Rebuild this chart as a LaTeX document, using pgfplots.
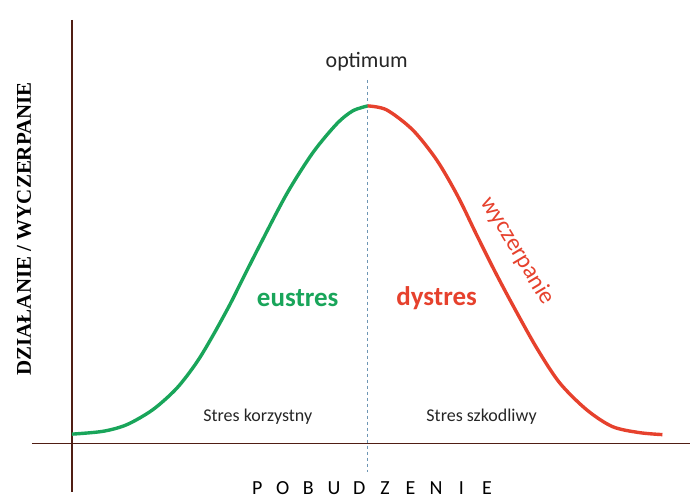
\documentclass[border=0pt]{standalone}
\usepackage{pgfplots}
\pgfplotsset{compat=1.18}
\usepackage{fontspec}
\setmainfont{Carlito}
\newfontfamily\serifb{Liberation Serif}
\definecolor{axcol}{RGB}{80,30,20}
\definecolor{gcurve}{RGB}{25,165,90}
\definecolor{rcurve}{RGB}{230,65,45}
\definecolor{dashc}{RGB}{110,150,180}
\begin{document}
\begin{tikzpicture}
\begin{axis}[
  scale only axis, width=691pt, height=500pt,
  xmin=0, xmax=691, ymin=0, ymax=500, y dir=reverse,
  hide axis, clip=false,
]
\path[draw=none] (axis cs:0,0) rectangle (axis cs:691,500);
% axes
\addplot[axcol, line width=1.2pt] coordinates {(72,20) (72,492)};
\addplot[axcol, line width=1.2pt] coordinates {(32,444) (691,444)};
% optimum line
\addplot[dashc, line width=0.8pt, dash pattern=on 3pt off 3pt] coordinates {(368,80) (368,472)};
% green (eustres)
\addplot[gcurve, line width=3.4pt, smooth] coordinates {
(72,434.5) (103,431.7) (127,425) (153,410) (177,388.5) (197,362.5) (213,336) (230,305)
(242,281) (260,245.5) (287,194) (313,153) (337,124) (353,111) (368,106)};
% red (dystres)
\addplot[rcurve, line width=3.4pt, smooth] coordinates {
(368,106) (387,110) (413,130) (437,160) (458,196) (477,235) (495,271) (513,305)
(537,348) (560,383) (587,410) (613,427) (640,433) (663,435)};
% labels
\node[font=\fontsize{22}{24}\selectfont, text=black!85] at (axis cs:367,62) {optimum};
\node[font=\fontsize{27}{30}\selectfont\bfseries, text=gcurve] at (axis cs:298,298) {eustres};
\node[font=\fontsize{27}{30}\selectfont\bfseries, text=rcurve] at (axis cs:437,298) {dystres};
\node[font=\fontsize{24}{26}\selectfont, text=rcurve, rotate=-59, inner sep=0pt] at (axis cs:518,251) {wyczerpanie};
\node[font=\fontsize{18}{20}\selectfont, text=black!85] at (axis cs:258,417) {Stres korzystny};
\node[font=\fontsize{18}{20}\selectfont, text=black!85] at (axis cs:482,417) {Stres szkodliwy};
\node[font=\serifb\fontsize{21}{23}\selectfont\bfseries, rotate=90] at (axis cs:24,229) {DZIAŁANIE / WYCZERPANIE};
% POBUDZENIE
\node[font=\fontsize{20}{22}\selectfont] at (axis cs:257.5,489) {P};
\node[font=\fontsize{20}{22}\selectfont] at (axis cs:283.1,489) {O};
\node[font=\fontsize{20}{22}\selectfont] at (axis cs:308.6,489) {B};
\node[font=\fontsize{20}{22}\selectfont] at (axis cs:334.2,489) {U};
\node[font=\fontsize{20}{22}\selectfont] at (axis cs:359.7,489) {D};
\node[font=\fontsize{20}{22}\selectfont] at (axis cs:385.3,489) {Z};
\node[font=\fontsize{20}{22}\selectfont] at (axis cs:410.8,489) {E};
\node[font=\fontsize{20}{22}\selectfont] at (axis cs:436.4,489) {N};
\node[font=\fontsize{20}{22}\selectfont] at (axis cs:461.9,489) {I};
\node[font=\fontsize{20}{22}\selectfont] at (axis cs:487.5,489) {E};
\end{axis}
\end{tikzpicture}
\end{document}
